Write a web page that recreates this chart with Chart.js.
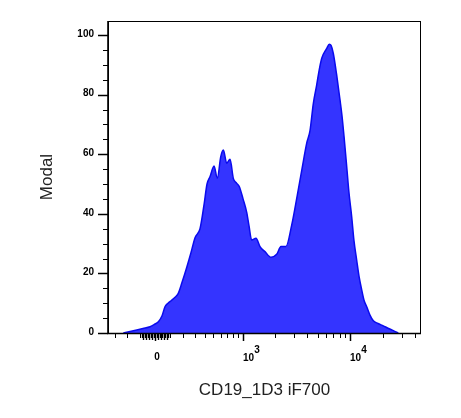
<!DOCTYPE html>
<html>
<head>
<meta charset="utf-8">
<script src="https://cdn.jsdelivr.net/npm/chart.js@4.4.1/dist/chart.umd.min.js"></script>
<style>
  body { margin: 0; background: #fff; }
  #wrap { width: 461px; height: 418px; }
</style>
</head>
<body>
<div id="wrap"><canvas id="histo" width="461" height="418"></canvas></div>
<script>
// histogram, x in display decades (biexponential), y = % of max
const channel = [-0.293, -0.231, -0.169, -0.111, -0.046, -0.009, 0.031, 0.065, 0.092, 0.120,
  0.154, 0.185, 0.215, 0.250, 0.293, 0.333, 0.370, 0.416, 0.453, 0.481,
  0.509, 0.546, 0.576, 0.608, 0.632, 0.663, 0.694, 0.724, 0.754, 0.780,
  0.814, 0.848, 0.869, 0.894, 0.934, 0.971, 1.017, 1.073, 1.125, 1.165,
  1.211, 1.264, 1.316, 1.359, 1.403, 1.433, 1.464, 1.495, 1.517, 1.542,
  1.588, 1.612, 1.628, 1.649, 1.680, 1.711, 1.729, 1.748, 1.773, 1.794,
  1.819, 1.840, 1.865, 1.887, 1.912, 1.933, 1.958, 1.988, 2.019, 2.062,
  2.111, 2.155, 2.204, 2.250];
const modal = [0, 0.5, 1, 1.5, 2.1, 2.8, 3.8, 5.8, 8.8, 10,
  11, 12, 13.3, 17, 22, 27, 32, 35, 43, 50,
  52.5, 56, 51.9, 59.2, 61.4, 57, 58.3, 51.9, 50.3, 49.1,
  45, 40.5, 36, 31.2, 31.8, 29, 27.3, 25.4, 26.4, 29,
  29, 36.2, 46.3, 55, 63.7, 67.8, 77, 83.2, 88, 92.2,
  95.5, 96.9, 96.5, 93.8, 86.6, 78.2, 73, 66, 55.8, 47,
  39, 31, 24.5, 19, 14.4, 11, 8.8, 6, 4.1, 3.2,
  2.4, 1.6, 0.8, 0];

const yTicks = [0, 20, 40, 60, 80, 100];
const yMinor = [5, 10, 15, 25, 30, 35, 45, 50, 55, 65, 70, 75, 85, 90, 95];
const xMajor = [0, 1000, 10000];
const xBase = ['0', '10', '10'];
const xExp = ['', '3', '4'];
const xMinor = [-300, -200, -100, -90, -80, -70, -60, -50, -40, -30, -20, -10,
  10, 20, 30, 40, 50, 60, 70, 80, 90,
  100, 200, 300, 400, 500, 600, 700, 800, 900,
  2000, 3000, 4000, 5000, 6000, 7000, 8000, 9000,
  20000, 30000, 40000];

// asinh display transform
function biex(v) {
    return Math.asinh(v / 314.5) / Math.LN10;
}

const axesPlugin = {
    id: 'flowAxes',
    afterDraw(chart) {
        const c = chart.ctx;
        const a = chart.chartArea;
        const xs = chart.scales.x, ys = chart.scales.y;
        c.save();
        c.strokeStyle = '#000';
        c.fillStyle = '#000';

        // frame
        c.lineWidth = 1;
        c.strokeRect(a.left + 0.5, a.top + 0.5, a.right - a.left - 1, a.bottom - a.top);
        c.lineWidth = 1.6;
        c.beginPath();
        c.moveTo(a.left, a.top);
        c.lineTo(a.left, a.bottom + 0.5);
        c.lineTo(a.right, a.bottom + 0.5);
        c.stroke();

        // y ticks
        c.lineWidth = 1.5;
        yTicks.forEach(function (t) {
            const y = Math.round(ys.getPixelForValue(t)) + 0.5;
            c.beginPath(); c.moveTo(a.left - 10, y); c.lineTo(a.left, y); c.stroke();
        });
        c.lineWidth = 1;
        yMinor.forEach(function (t) {
            const y = Math.round(ys.getPixelForValue(t)) + 0.5;
            c.beginPath(); c.moveTo(a.left - 5, y); c.lineTo(a.left, y); c.stroke();
        });
        c.font = 'bold 10px "Liberation Sans", Arial, sans-serif';
        c.textAlign = 'right';
        c.textBaseline = 'middle';
        yTicks.forEach(function (t) {
            c.fillText(String(t), a.left - 14, ys.getPixelForValue(t) - 1);
        });

        // x ticks
        c.lineWidth = 1.5;
        xMajor.forEach(function (t) {
            const x = Math.round(xs.getPixelForValue(biex(t))) + 0.5;
            c.beginPath(); c.moveTo(x, a.bottom); c.lineTo(x, a.bottom + 8); c.stroke();
        });
        xMinor.forEach(function (t) {
            const x = Math.round(xs.getPixelForValue(biex(t))) + 0.5;
            const near = Math.abs(t) < 100;
            c.lineWidth = near ? 1.4 : 1;
            c.beginPath(); c.moveTo(x, a.bottom); c.lineTo(x, a.bottom + (near && t % 20 === 0 ? 7 : 5)); c.stroke();
        });
        c.textBaseline = 'alphabetic';
        xMajor.forEach(function (t, i) {
            const x = xs.getPixelForValue(biex(t));
            c.font = 'bold 10px "Liberation Sans", Arial, sans-serif';
            if (!xExp[i]) {
                c.textAlign = 'center';
                c.fillText(xBase[i], x + 2, a.bottom + 27);
                return;
            }
            c.textAlign = 'left';
            c.fillText(xBase[i], x, a.bottom + 28);
            const w = c.measureText(xBase[i]).width;
            c.fillText(xExp[i], x + w, a.bottom + 20);
        });

        // titles
        c.fillStyle = '#222';
        c.font = '17px "Liberation Sans", Arial, sans-serif';
        c.textAlign = 'center';
        c.fillText('CD19_1D3 iF700', (a.left + a.right) / 2, 395);
        c.translate(52, (a.top + a.bottom) / 2);
        c.rotate(-Math.PI / 2);
        c.fillText('Modal', 0, 0);
        c.restore();
    }
};

const points = channel.map(function (x, i) { return { x: x, y: modal[i] }; });

new Chart(document.getElementById('histo'), {
    type: 'line',
    data: {
        datasets: [{
            data: points,
            borderColor: '#0a0aee',
            borderWidth: 1.5,
            backgroundColor: '#3434ff',
            fill: 'origin',
            pointRadius: 0,
            cubicInterpolationMode: 'monotone'
        }]
    },
    options: {
        responsive: false,
        animation: false,
        layout: { padding: { left: 108, right: 40, top: 21, bottom: 85 } },
        plugins: { legend: { display: false }, tooltip: { enabled: false } },
        scales: {
            x: { type: 'linear', min: -0.435, max: 2.46, display: false },
            y: { min: 0, max: 104.7, display: false }
        }
    },
    plugins: [axesPlugin]
});
</script>
</body>
</html>
